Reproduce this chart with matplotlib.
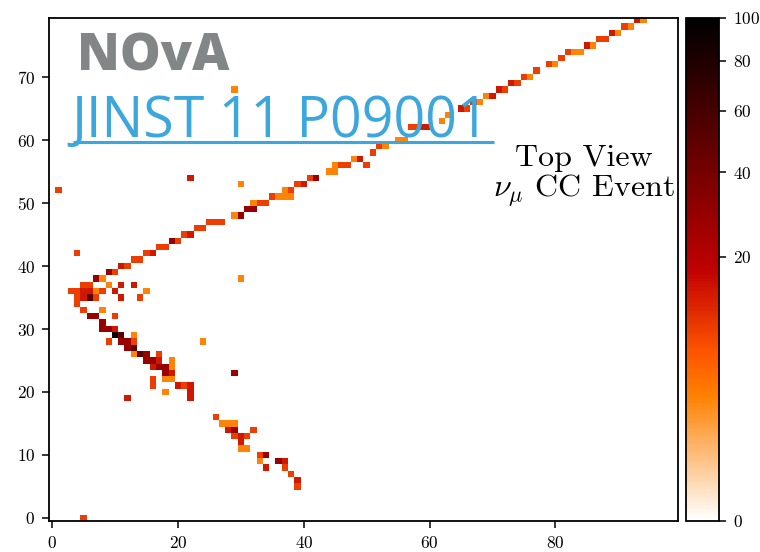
import matplotlib
matplotlib.use("Agg")
import matplotlib.pyplot as plt
import matplotlib.colors as mcolors
import numpy as np

plt.rcParams['font.family'] = ['cmr10', 'DejaVu Sans']
plt.rcParams['mathtext.fontset'] = 'cm'
plt.rcParams['axes.formatter.use_mathtext'] = True

O, RO, R, DR, VD, K = 3, 9, 14, 28, 50, 90

# --- muon track (plane, cell, charge)
mu_x = [93, 94, 91, 92, 89, 90, 87, 88, 85, 86, 82, 83, 84, 81, 79, 80, 77, 75, 76,
        73, 74, 71, 72, 69, 70, 67, 68, 65, 66, 63, 62, 57, 58, 59, 60, 55, 56,
        52, 53, 51, 48, 49, 45, 46, 47, 50, 44, 45, 41, 42, 39, 40, 37, 38,
        35, 36, 37, 38, 32, 33, 34, 31, 32, 29, 30, 25, 26, 27, 23, 24, 21, 22,
        19, 20, 17, 18, 15, 16, 13, 14, 11, 12, 9, 10, 7, 8]
mu_y = [79, 79, 78, 78, 77, 77, 76, 76, 75, 75, 74, 74, 74, 73, 72, 72, 71, 70, 70,
        69, 69, 68, 68, 67, 67, 66, 66, 65, 65, 64, 63, 62, 62, 62, 62, 60, 60,
        59, 59, 58, 57, 57, 56, 56, 56, 56, 55, 55, 54, 54, 53, 53, 52, 52,
        51, 51, 51, 51, 50, 50, 50, 49, 49, 48, 48, 47, 47, 47, 46, 46, 45, 45,
        44, 44, 43, 43, 42, 42, 41, 41, 40, 40, 39, 39, 38, 38]
mu_q = [R, O, RO, O, R, O, RO, RO, R, O, RO, O, O, RO, RO, O, RO, RO, O,
        R, RO, R, RO, O, R, RO, O, R, RO, O, O, RO, RO, R, R, O, O,
        RO, O, RO, O, R, O, RO, RO, RO, O, O, RO, DR, RO, R, O, RO,
        RO, O, O, O, O, RO, RO, DR, DR, O, DR, RO, RO, RO, RO, RO, RO, R,
        DR, RO, RO, RO, RO, R, RO, RO, R, RO, DR, RO, DR, O]

# --- hadronic shower near the vertex
sh_x = [5, 6, 9, 11, 13,
        3, 4, 5, 6, 7, 8, 10, 15,
        4, 5, 6, 7, 11, 14,
        4, 5, 8, 6, 7, 10, 8, 8, 9, 10,
        10, 11, 13, 9, 11, 12, 13, 24, 12, 13,
        13, 14, 15, 17, 15, 16, 17, 19,
        16, 17, 18, 19, 18, 19, 16, 18, 19,
        16, 20, 21, 22, 18, 22, 12, 22]
sh_y = [37, 37, 37, 37, 37,
        36, 36, 36, 36, 36, 36, 36, 36,
        35, 35, 35, 35, 35, 35,
        34, 33, 33, 32, 32, 32, 31, 30, 30, 30,
        29, 29, 29, 28, 28, 28, 28, 28, 27, 27,
        26, 26, 26, 26, 25, 25, 25, 25,
        24, 24, 24, 24, 23, 23, 22, 22, 22,
        21, 21, 21, 21, 20, 20, 19, 19]
sh_q = [RO, RO, O, R, R,
        RO, RO, R, R, O, RO, R, O,
        RO, R, VD, RO, R, RO,
        RO, RO, O, DR, DR, RO, DR, DR, DR, R,
        K, VD, O, RO, DR, DR, RO, O, DR, VD,
        O, VD, DR, RO, DR, DR, R, O,
        R, DR, DR, O, DR, R, RO, O, O,
        RO, R, RO, R, O, R, R, R]

# --- second prong (lower track)
p2_x = [26, 27, 28, 29, 28, 29, 32, 29, 30, 31, 30, 30, 31,
        33, 34, 33, 36, 37, 34, 37, 38, 39, 39]
p2_y = [16, 15, 15, 15, 14, 14, 14, 13, 13, 13, 12, 11, 11,
        10, 10, 9, 9, 9, 8, 8, 7, 6, 5]
p2_q = [RO, O, O, O, R, DR, RO, RO, R, RO, R, O, O,
        RO, DR, O, DR, R, R, RO, RO, R, RO]

# --- isolated hits
iso_x = [1, 22, 30, 29, 30, 29, 5, 4]
iso_y = [52, 54, 53, 68, 38, 23, 0, 42]
iso_q = [RO, R, O, O, O, DR, RO, RO]

n_planes, n_cells = 100, 80
x_ticks = [0, 20, 40, 60, 80]
y_ticks = [0, 10, 20, 30, 40, 50, 60, 70]
cbar_ticks = [0, 20, 40, 60, 80, 100]

grid = np.zeros((n_cells, n_planes))
for xs, ys, qs in [(mu_x, mu_y, mu_q), (sh_x, sh_y, sh_q),
                   (p2_x, p2_y, p2_q), (iso_x, iso_y, iso_q)]:
    for x, y, q in zip(xs, ys, qs):
        grid[y, x] = q

fig = plt.figure(figsize=(7.6, 5.52), dpi=100)
ax = fig.add_axes([0.0647, 0.0565, 0.8274, 0.9114])
cax = fig.add_axes([0.9026, 0.0565, 0.0434, 0.9114])

norm = mcolors.PowerNorm(gamma=0.4, vmin=0, vmax=100)
im = ax.imshow(grid, origin='lower', cmap='gist_heat_r', norm=norm,
               extent=(-0.5, n_planes - 0.5, -0.5, n_cells - 0.5),
               interpolation='nearest', aspect='auto')

ax.set_xticks(x_ticks)
ax.set_yticks(y_ticks)
ax.tick_params(direction='out', length=5, width=1.1, labelsize=12.5, pad=5)
for sp in ax.spines.values():
    sp.set_linewidth(1.3)

cb = fig.colorbar(im, cax=cax, ticks=cbar_ticks)
cb.ax.tick_params(direction='out', length=5, width=1.1, labelsize=12.5, pad=5)
cb.outline.set_linewidth(1.3)

ax.text(3.9, 71.1, 'NOvA', fontsize=37, fontweight='heavy', color='#838686',
        family=['Open Sans', 'DejaVu Sans'], zorder=5)
ax.text(3.0, 60.6, 'JINST 11 P09001', fontsize=40, color='#3ba7dc',
        family=['Open Sans', 'DejaVu Sans'], zorder=5)
ax.plot([0.038, 0.707], [0.753, 0.753], transform=ax.transAxes,
        color='#3ba7dc', lw=2.2, zorder=5, solid_capstyle='butt')
ax.text(84.6, 55.9, 'Top View', fontsize=23, ha='center', zorder=5)
ax.text(84.6, 51.0, r'$\nu_\mu$ CC Event', fontsize=23, ha='center', zorder=5)

fig.savefig('out.png', dpi=100)
